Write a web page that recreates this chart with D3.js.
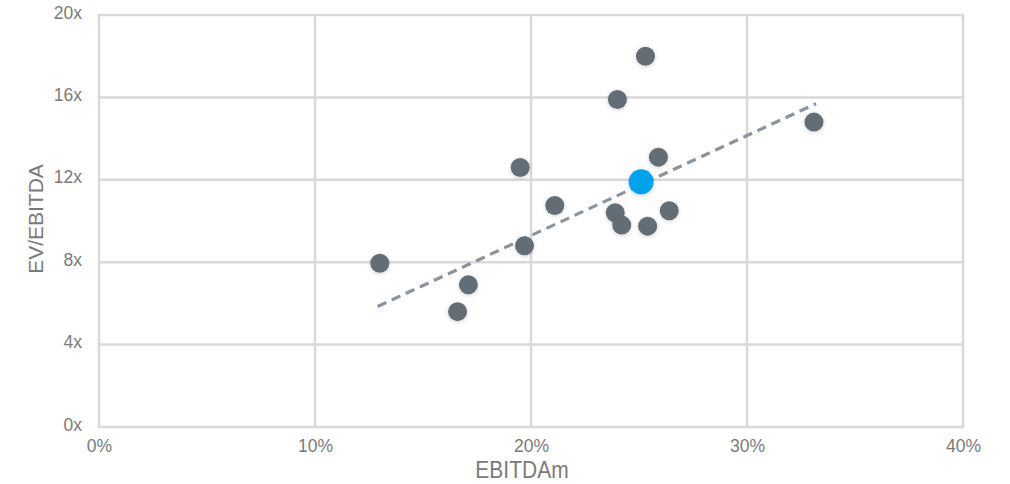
<!DOCTYPE html>
<html><head><meta charset="utf-8">
<script src="https://cdn.jsdelivr.net/npm/d3@7"></script>
<style>body{margin:0;background:#fff;}svg{display:block;font-family:"Liberation Sans",Arial,sans-serif;}</style>
</head><body><div id="chart"></div>
<script>
// EBITDA margin (%) and EV/EBITDA (x) for peers
const peerMargin = [13.0, 17.1, 16.6, 19.5, 19.7, 21.1, 23.9, 24.2, 25.3, 24.0, 25.9, 25.4, 26.4, 33.1];
const peerMultiple = [7.95, 6.9, 5.6, 12.6, 8.8, 10.75, 10.4, 9.8, 18.0, 15.9, 13.1, 9.75, 10.5, 14.8];
const targetMargin = [25.1];
const targetMultiple = [11.9];
const trendMargin = [12.9, 33.2];
const trendMultiple = [5.85, 15.7];
const xTicks = [0, 10, 20, 30, 40];
const yTicks = [0, 4, 8, 12, 16, 20];

const W = 1010, H = 484;
const svg = d3.select("#chart").append("svg").attr("width", W).attr("height", H);
const defs = svg.append("defs");
const f = defs.append("filter").attr("id","sh").attr("x","-50%").attr("y","-50%").attr("width","200%").attr("height","200%");
f.append("feDropShadow").attr("dx",0).attr("dy",1).attr("stdDeviation",2).attr("flood-color","#000").attr("flood-opacity",0.18);

const x = d3.scaleLinear().domain([0, 40]).range([99, 963]);
const y = d3.scaleLinear().domain([0, 20]).range([427, 15]);

const grid = "#d9d9d9";
const txt = "#7a7a7a";
svg.append("g").selectAll("line").data(xTicks).join("line")
  .attr("x1", d => x(d)).attr("x2", d => x(d)).attr("y1", y(20)).attr("y2", y(0))
  .attr("stroke", grid).attr("stroke-width", 2.5);
svg.append("g").selectAll("line").data(yTicks).join("line")
  .attr("x1", x(0) - 1.25).attr("x2", x(40) + 1.25).attr("y1", d => y(d)).attr("y2", d => y(d))
  .attr("stroke", grid).attr("stroke-width", 2.5);

const xAxis = svg.append("g").attr("transform", `translate(0,${y(0)})`)
  .call(d3.axisBottom(x).tickValues(xTicks).tickFormat(d => d + "%").tickSize(0));
xAxis.selectAll("text").attr("dy", null).attr("y", 25);
const yAxis = svg.append("g").attr("transform", `translate(${x(0)},0)`)
  .call(d3.axisLeft(y).tickValues(yTicks).tickFormat(d => d + "x").tickSize(0));
yAxis.selectAll("text").attr("dy", null).attr("x", -17).attr("y", 3);
[xAxis, yAxis].forEach(a => {
  a.select(".domain").remove();
  a.selectAll("text").attr("fill", txt).style("font-size", "17.5px").style("font-family", '"Liberation Sans",Arial,sans-serif');
});

svg.append("text").attr("transform", "translate(522,478) scale(1,1.1)").attr("text-anchor", "middle")
  .attr("fill", txt).style("font-size", "21px").text("EBITDAm");
svg.append("text").attr("transform", `translate(43,219) rotate(-90)`).attr("text-anchor", "middle")
  .attr("fill", txt).style("font-size", "21px").text("EV/EBITDA");

svg.append("line")
  .attr("x1", x(trendMargin[0])).attr("y1", y(trendMultiple[0]))
  .attr("x2", x(trendMargin[1])).attr("y2", y(trendMultiple[1]))
  .attr("stroke", "#8b949c").attr("stroke-width", 3.2).attr("stroke-dasharray", "9.5,6");

svg.append("g").selectAll("circle").data(peerMargin.map((m, i) => [m, peerMultiple[i]])).join("circle")
  .attr("cx", d => x(d[0])).attr("cy", d => y(d[1])).attr("r", 9.5)
  .attr("fill", "#646d75").attr("filter", "url(#sh)");
svg.append("g").selectAll("circle").data(targetMargin.map((m, i) => [m, targetMultiple[i]])).join("circle")
  .attr("cx", d => x(d[0])).attr("cy", d => y(d[1])).attr("r", 12.5)
  .attr("fill", "#00a2ec").attr("filter", "url(#sh)");
</script></body></html>
